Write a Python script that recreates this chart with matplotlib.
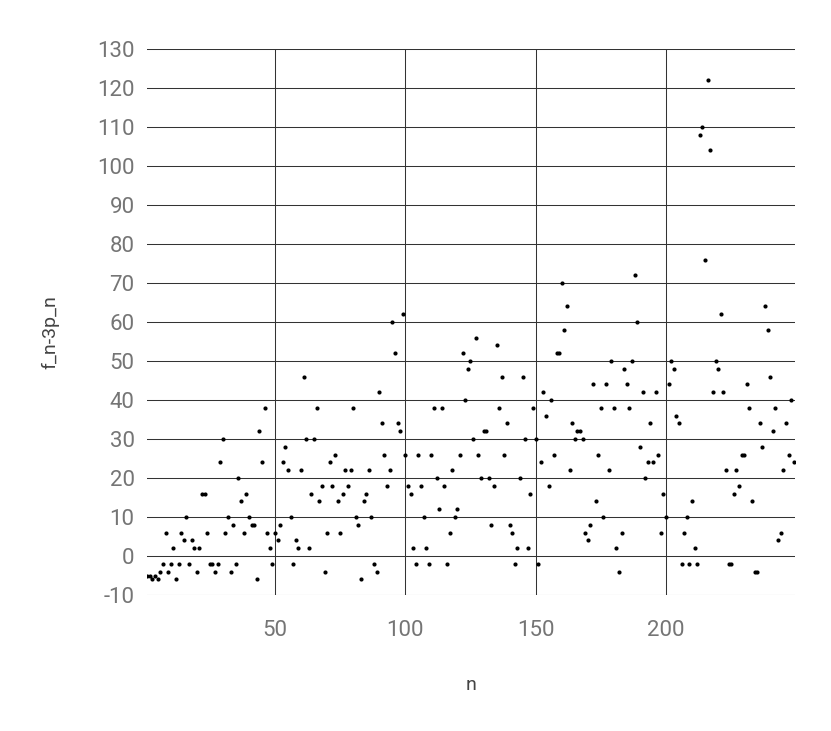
#!/usr/bin/env python
"""
Scatter of f_n - 3p_n against n, drawn in a plain spreadsheet style.
"""

import numpy as np
import matplotlib
matplotlib.use("Agg")
import matplotlib.pyplot as plt

# f_n - 3p_n for n = 1, 2, 3, ...
diff_values = [
    -5, -5, -6, -5, -6, -4, -2, 6, -4, -2,
    2, -6, -2, 6, 4, 10, -2, 4, 2, -4,
    2, 16, 16, 6, -2, -2, -4, -2, 24, 30,
    6, 10, -4, 8, -2, 20, 14, 6, 16, 10,
    8, 8, -6, 32, 24, 38, 6, 2, -2, 6,
    4, 8, 24, 28, 22, 10, -2, 4, 2, 22,
    46, 30, 2, 16, 30, 38, 14, 18, -4, 6,
    24, 18, 26, 14, 6, 16, 22, 18, 22, 38,
    10, 8, -6, 14, 16, 22, 10, -2, -4, 42,
    34, 26, 18, 22, 60, 52, 34, 32, 62, 26,
    18, 16, 2, -2, 26, 18, 10, 2, -2, 26,
    38, 20, 12, 38, 18, -2, 6, 22, 10, 12,
    26, 52, 40, 48, 50, 30, 56, 26, 20, 32,
    32, 20, 8, 18, 54, 38, 46, 26, 34, 8,
    6, -2, 2, 20, 46, 30, 2, 16, 38, 30,
    -2, 24, 42, 36, 18, 40, 26, 52, 52, 70,
    58, 64, 22, 34, 30, 32, 32, 30, 6, 4,
    8, 44, 14, 26, 38, 10, 44, 22, 50, 38,
    2, -4, 6, 48, 44, 38, 50, 72, 60, 28,
    42, 20, 24, 34, 24, 42, 26, 6, 16, 10,
    44, 50, 48, 36, 34, -2, 6, 10, -2, 14,
    2, -2, 108, 110, 76, 122, 104, 42, 50, 48,
    62, 42, 22, -2, -2, 16, 22, 18, 26, 26,
    44, 38, 14, -4, -4, 34, 28, 64, 58, 46,
    32, 38, 4, 6, 22, 34, 26, 40, 24,
]

y_ticks = list(range(-10, 131, 10))
x_ticks = [50, 100, 150, 200]

GRID_COLOR = "#333333"
TICK_COLOR = "#757575"
TITLE_COLOR = "#444444"


def plot_diffs(values):
    """Draw the dots and style the axes."""
    n = np.arange(1, len(values) + 1)

    fig = plt.figure(figsize=(8.31, 7.31), dpi=100)
    ax = fig.add_axes([0.1769, 0.186, 0.7798, 0.747])

    ax.scatter(n, values, s=9, color="black", linewidths=0, zorder=3)

    ax.set_xlim(0.9, 249.5)
    ax.set_ylim(-10, 130)
    ax.set_xticks(x_ticks)
    ax.set_yticks(y_ticks)

    ax.grid(True, color=GRID_COLOR, linewidth=0.75)
    ax.set_axisbelow(True)
    for spine in ax.spines.values():
        spine.set_visible(False)

    ax.tick_params(length=0, labelsize=16, labelcolor=TICK_COLOR)
    ax.tick_params(axis="x", pad=18)
    ax.tick_params(axis="y", pad=9)

    fig.text(0.06, 0.546, "f_n-3p_n", rotation=90, ha="center", va="center",
             fontsize=14, color=TITLE_COLOR)
    fig.text(0.567, 0.063, "n", ha="center", va="center",
             fontsize=14, color=TITLE_COLOR)

    fig.savefig("out.png", dpi=100)


def main():
    plt.rcParams["font.family"] = ["Roboto", "DejaVu Sans"]
    plt.rcParams["axes.unicode_minus"] = False
    plot_diffs(diff_values)


if __name__ == "__main__":
    main()
